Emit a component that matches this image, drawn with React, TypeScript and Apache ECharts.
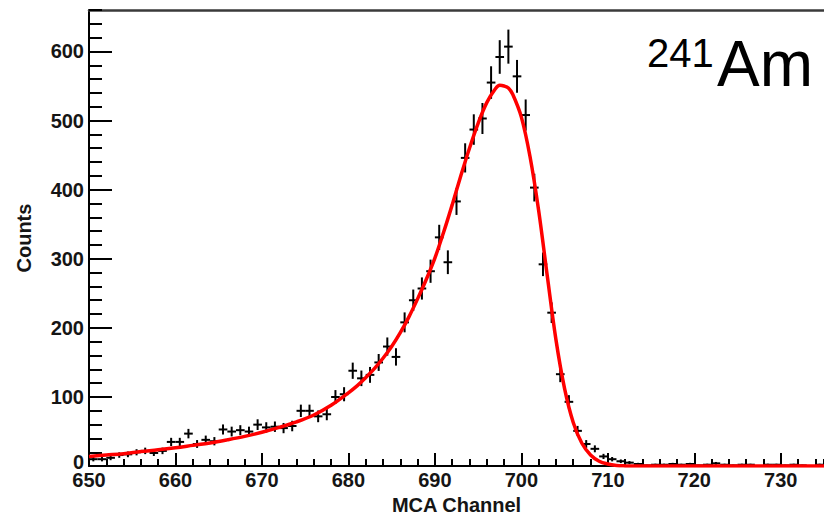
import React, { useEffect, useRef } from "react";
import * as echarts from "echarts";

// MCA channel (lower bin edge), one bin per channel
const channels = [
  650, 651, 652, 653, 654, 655, 656, 657, 658, 659,
  660, 661, 662, 663, 664, 665, 666, 667, 668, 669,
  670, 671, 672, 673, 674, 675, 676, 677, 678, 679,
  680, 681, 682, 683, 684, 685, 686, 687, 688, 689,
  690, 691, 692, 693, 694, 695, 696, 697, 698, 699,
  700, 701, 702, 703, 704, 705, 706, 707, 708, 709,
  710, 711, 712, 713, 714, 715, 716, 717, 718, 719,
  720, 721, 722, 723, 724, 725, 726, 727, 728, 729,
  730, 731, 732, 733, 734,
];

// Measured counts per channel
const counts = [
  10, 10, 12, 16, 17, 20, 22, 19, 22, 35,
  35, 47, 32, 38, 36, 53, 50, 52, 50, 60,
  56, 57, 55, 58, 80, 80, 72, 75, 100, 104,
  138, 127, 132, 150, 173, 158, 208, 240, 257, 282,
  331, 295, 383, 446, 487, 503, 555, 592, 607, 564,
  508, 403, 292, 222, 133, 93, 51, 32, 25, 14,
  10, 7, 5, 3, 1, 2, 2, 3, 2, 3,
  1, 2, 4, 2, 1, 2, 2, 0, 2, 2,
  1, 2, 1, 0, 2,
];

// Poisson errors of the counts
const errors = counts.map((c) => Math.sqrt(c));

// Fit curve
const fitX = [
  650, 652, 654, 656, 658, 660, 662, 664, 666, 668, 670, 672, 674, 676, 678,
  680, 681, 682, 683, 684, 685, 686, 687, 688, 689, 690, 691, 692, 693, 694,
  695, 696, 697, 697.5, 698, 698.5, 699, 700, 701, 702, 703, 704, 705, 706,
  707, 708, 709, 710, 711, 712, 713, 715, 720, 725, 730, 735,
];
const fitY = [
  14, 16, 18, 21, 23.5, 26.5, 30, 33.5, 38, 43, 49, 56, 64, 74, 88,
  106, 116, 128, 141, 156, 173, 193, 216, 242, 270, 301, 338, 378, 420, 460,
  496, 526, 546, 551, 550, 547, 538, 505, 448, 370, 275, 183, 112, 63,
  33, 16, 7, 3, 1, 0.3, 0, 0, 0, 0, 0, 0,
];

const X_MIN = 650;
const X_MAX = 735;
const Y_MIN = 0;
const Y_MAX = 660;

const FONT = "'Liberation Sans', Arial, Helvetica, sans-serif";
const LABEL_COLOR = "#151515";

export default function App() {
  const ref = useRef<HTMLDivElement>(null);

  useEffect(() => {
    if (!ref.current) return;
    const chart = echarts.init(ref.current, null, { renderer: "svg" });

    const points = channels.map((ch, i) => [ch + 0.5, counts[i], errors[i]]);
    const fitData = fitX.map((x, i) => [x, fitY[i]]);

    const labelStyle = {
      color: LABEL_COLOR,
      fontSize: 20,
      fontWeight: "bold" as const,
      fontFamily: FONT,
    };

    const option: any = {
      animation: false,
      backgroundColor: "#ffffff",
      grid: { left: 89, right: -5, top: 10, bottom: 53, containLabel: false },
      xAxis: [
        {
          type: "value",
          min: X_MIN,
          max: X_MAX,
          interval: 10,
          position: "bottom",
          name: "MCA Channel",
          nameLocation: "middle",
          nameGap: 28,
          nameTextStyle: { ...labelStyle },
          axisLine: { show: true, onZero: false, lineStyle: { color: "#000", width: 2 } },
          axisTick: { show: true, inside: true, length: 13, lineStyle: { color: "#000", width: 2 } },
          axisLabel: { ...labelStyle, margin: 4, showMaxLabel: false },
          splitLine: { show: false },
          minorTick: { show: false },
        },
        {
          type: "value",
          min: X_MIN,
          max: X_MAX,
          interval: 2,
          position: "bottom",
          axisLine: { show: false, onZero: false },
          axisTick: { show: true, inside: true, length: 7, lineStyle: { color: "#000", width: 2 } },
          axisLabel: { show: false },
          splitLine: { show: false },
        },
        {
          type: "value",
          min: X_MIN,
          max: X_MAX,
          position: "top",
          axisLine: { show: true, onZero: false, lineStyle: { color: "#3a3a3a", width: 2.5 } },
          axisTick: { show: false },
          axisLabel: { show: false },
          splitLine: { show: false },
        },
      ],
      yAxis: [
        {
          type: "value",
          min: Y_MIN,
          max: Y_MAX,
          interval: 100,
          position: "left",
          name: "Counts",
          nameLocation: "middle",
          nameGap: 55,
          nameRotate: 90,
          nameTextStyle: { ...labelStyle },
          axisLine: { show: true, onZero: false, lineStyle: { color: "#000", width: 2 } },
          axisTick: { show: true, inside: true, length: 23, lineStyle: { color: "#000", width: 2 } },
          axisLabel: {
            ...labelStyle,
            margin: 5,
            showMaxLabel: false,
            formatter: (v: number) => (v === 0 ? "{z|0}" : String(v)),
            rich: { z: { ...labelStyle, padding: [0, 0, 9, 0] } },
          },
          splitLine: { show: false },
        },
        {
          type: "value",
          min: Y_MIN,
          max: Y_MAX,
          interval: 20,
          position: "left",
          axisLine: { show: false, onZero: false },
          axisTick: { show: true, inside: true, length: 13, lineStyle: { color: "#000", width: 2 } },
          axisLabel: { show: false },
          splitLine: { show: false },
        },
      ],
      series: [
        {
          type: "custom",
          xAxisIndex: 0,
          yAxisIndex: 0,
          data: points,
          clip: true,
          renderItem: (_params: any, api: any) => {
            const x = api.value(0);
            const y = api.value(1);
            const e = api.value(2);
            if (!(y > 0)) return null;
            const c = api.coord([x, y]);
            const top = api.coord([x, y + e]);
            const bot = api.coord([x, Math.max(0, y - e)]);
            const l = api.coord([x - 0.5, y]);
            const r = api.coord([x + 0.5, y]);
            const style = { stroke: "#000", lineWidth: 2 };
            return {
              type: "group",
              children: [
                { type: "line", shape: { x1: c[0], y1: top[1], x2: c[0], y2: bot[1] }, style },
                { type: "line", shape: { x1: l[0], y1: c[1], x2: r[0], y2: c[1] }, style },
              ],
            };
          },
        },
        {
          type: "line",
          xAxisIndex: 0,
          yAxisIndex: 0,
          data: fitData,
          showSymbol: false,
          symbol: "none",
          smooth: 0.35,
          clip: true,
          lineStyle: { color: "#ff0000", width: 3.5 },
          z: 5,
        },
      ],
      graphic: [
        {
          type: "text",
          x: 647,
          y: 53,
          style: {
            text: "241",
            fontSize: 40,
            fontFamily: FONT,
            fill: "#000",
            align: "left",
            verticalAlign: "middle",
            textAlign: "left",
            textVerticalAlign: "middle",
          },
        },
        {
          type: "text",
          x: 717,
          y: 64,
          style: {
            text: "Am",
            fontSize: 64,
            fontFamily: FONT,
            fill: "#000",
            align: "left",
            verticalAlign: "middle",
            textAlign: "left",
            textVerticalAlign: "middle",
          },
        },
      ],
    };

    chart.setOption(option);
    return () => chart.dispose();
  }, []);

  return (
    <div
      ref={ref}
      style={{ position: "fixed", left: 0, top: 0, width: 824, height: 520, background: "#fff" }}
    />
  );
}
